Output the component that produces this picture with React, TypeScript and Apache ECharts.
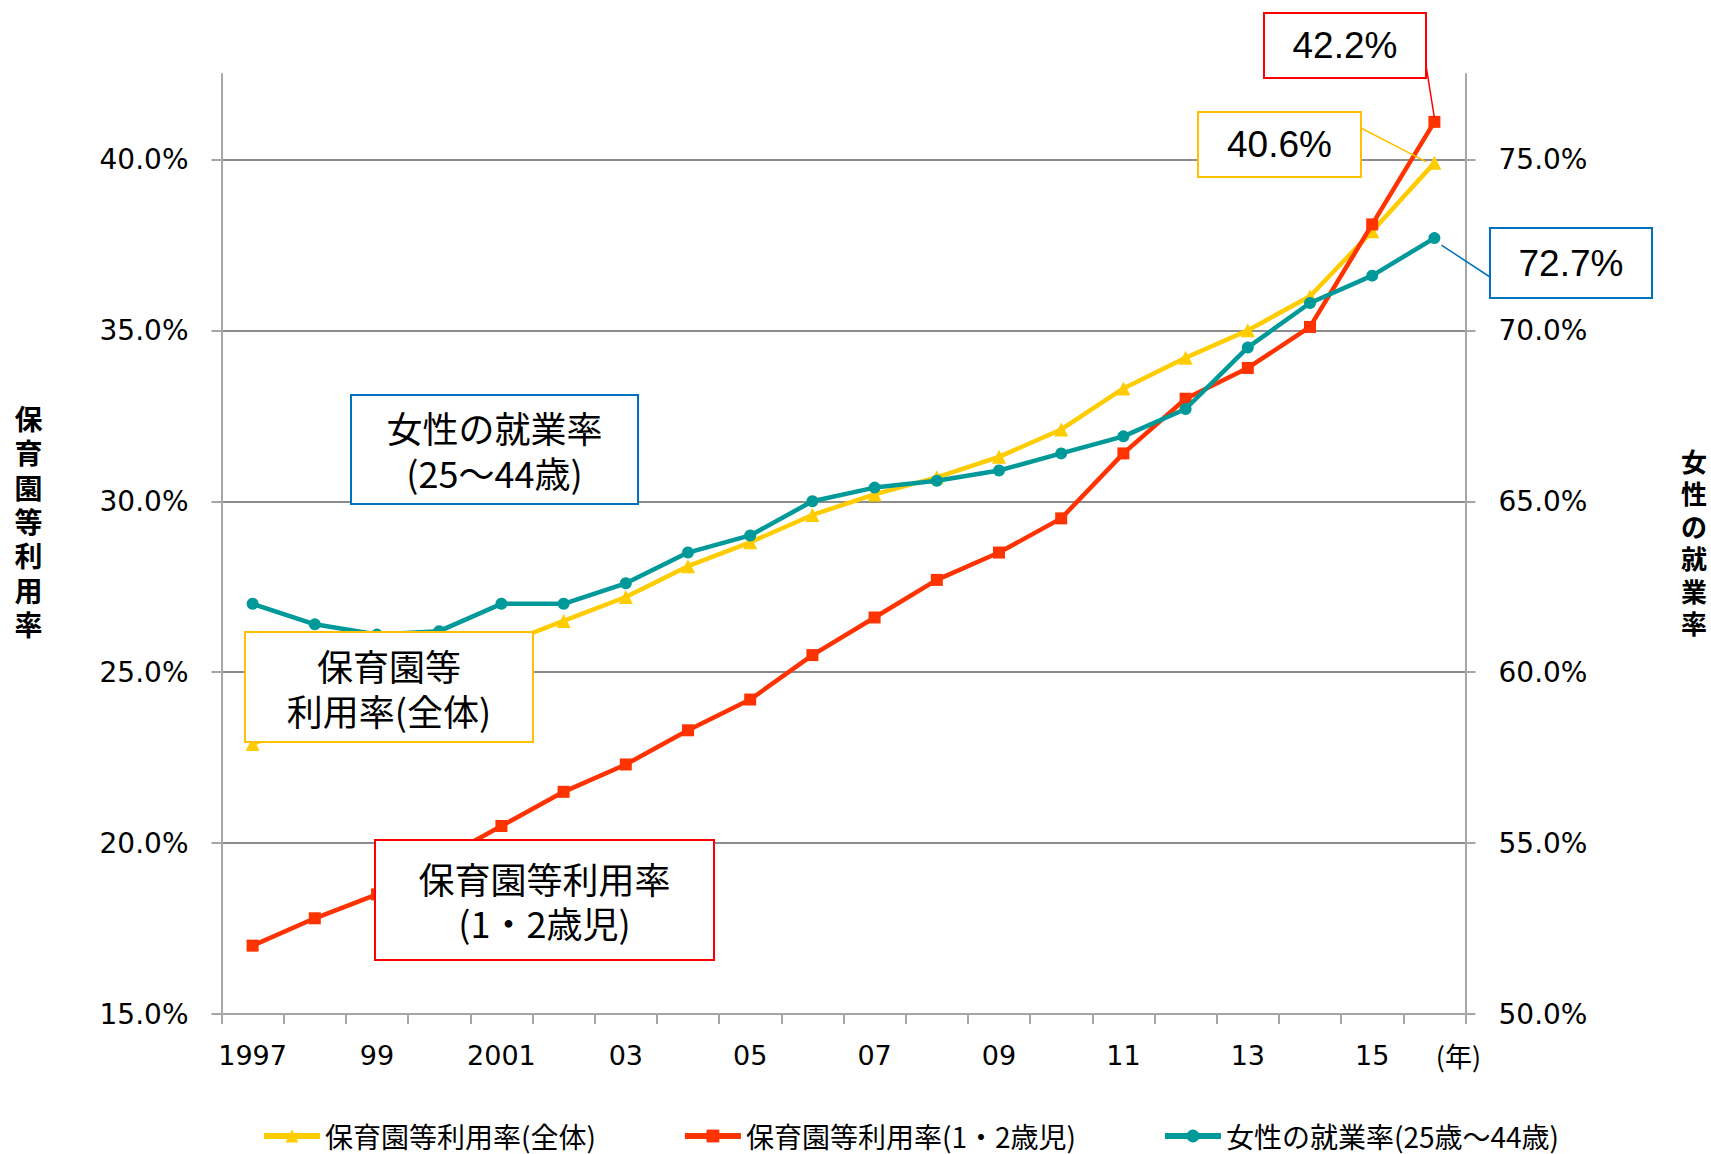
import React, { useEffect, useRef } from 'react';
import * as echarts from 'echarts';

const years = ['1997', '1998', '1999', '2000', '2001', '2002', '2003', '2004', '2005', '2006', '2007', '2008', '2009', '2010', '2011', '2012', '2013', '2014', '2015', '2016'];
const xTickLabels = ['1997', '', '99', '', '2001', '', '03', '', '05', '', '07', '', '09', '', '11', '', '13', '', '15', '(年)'];
const seriesNames = ['保育園等利用率(全体)', '保育園等利用率(1・2歳児)', '女性の就業率(25歳～44歳)'];
const usageTotal = [22.9, 23.6, 24.3, 25.0, 25.8, 26.5, 27.2, 28.1, 28.8, 29.6, 30.2, 30.7, 31.3, 32.1, 33.3, 34.2, 35.0, 36.0, 37.9, 39.9];
const usageAge12 = [17.0, 17.8, 18.5, 19.5, 20.5, 21.5, 22.3, 23.3, 24.2, 25.5, 26.6, 27.7, 28.5, 29.5, 31.4, 33.0, 33.9, 35.1, 38.1, 41.1];
const femaleEmployment = [62.0, 61.4, 61.1, 61.2, 62.0, 62.0, 62.6, 63.5, 64.0, 65.0, 65.4, 65.6, 65.9, 66.4, 66.9, 67.7, 69.5, 70.8, 71.6, 72.7];
const leftTicks = [15, 20, 25, 30, 35, 40];
const rightTicks = [50, 55, 60, 65, 70, 75];
const leftAxisName = '保育園等利用率';
const rightAxisName = '女性の就業率';
const calloutTexts = ['42.2%', '40.6%', '72.7%'];

const C_YELLOW = '#FFCC00';
const C_RED = '#FF3300';
const C_TEAL = '#009999';
const AXIS_GRAY = '#a6a6a6';
const GRID_GRAY = '#8c8c8c';
const NUM_FONT = 'DejaVu Sans, Noto Sans CJK JP';
const JP_FONT = 'Noto Sans CJK JP';

function pct(v: number) {
  return v.toFixed(1) + '%';
}

function boxGroup(x: number, y: number, w: number, h: number, stroke: string, lines: string[], fontSize: number, fontFamily: string, lineHeight: number) {
  const cx = x + w / 2;
  const cy = y + h / 2;
  const start = cy - ((lines.length - 1) * lineHeight) / 2;
  return [
    { type: 'rect', z: 100, shape: { x, y, width: w, height: h }, style: { fill: '#ffffff', stroke, lineWidth: 2 } },
    ...lines.map((t, i) => ({
      type: 'text', z: 101,
      style: { text: t, x: cx, y: start + i * lineHeight, align: 'center', verticalAlign: 'middle', fontSize, fontFamily, fill: '#000000' },
    })),
  ];
}

function verticalName(text: string, cx: number, cy: number, pitch: number, fontSize: number) {
  const chars = Array.from(text);
  const start = cy - ((chars.length - 1) * pitch) / 2;
  return chars.map((ch, i) => ({
    type: 'text', z: 50,
    style: {
      text: ch, x: cx, y: start + i * pitch, align: 'center', verticalAlign: 'middle',
      fontSize, fontWeight: 'bold', fontFamily: JP_FONT, fill: '#000',
    },
  }));
}

export default function App() {
  const ref = useRef<HTMLDivElement>(null);
  useEffect(() => {
    if (!ref.current) return;
    const chart = echarts.init(ref.current, null, { renderer: 'svg' });
    const axisCommon = {
      type: 'value',
      interval: 5,
      axisLine: { show: true, lineStyle: { color: AXIS_GRAY, width: 2 } },
      axisTick: { show: true, length: 10, lineStyle: { color: AXIS_GRAY, width: 2 } },
    };
    const option: any = {
      animation: false,
      backgroundColor: '#ffffff',
      grid: { left: 221.5, right: 245.5, top: 74, bottom: 140, containLabel: false },
      legend: {
        left: 256,
        top: 1116,
        itemWidth: 56,
        itemHeight: 16,
        itemGap: 86,
        lineStyle: { width: 6 },
        textStyle: { fontFamily: JP_FONT, fontSize: 28, color: '#000', lineHeight: 30 },
        data: seriesNames,
      },
      xAxis: {
        type: 'category',
        data: years,
        boundaryGap: true,
        axisLine: { show: true, lineStyle: { color: AXIS_GRAY, width: 2 } },
        axisTick: { show: true, interval: 0, length: 10, lineStyle: { color: AXIS_GRAY, width: 2 } },
        axisLabel: {
          interval: 0,
          margin: 28,
          fontFamily: NUM_FONT,
          fontSize: 27,
          color: '#000',
          formatter: (_v: string, i: number) => (i === years.length - 1 ? '{yr|' + xTickLabels[i] + '}' : xTickLabels[i]),
          rich: { yr: { fontFamily: JP_FONT, fontSize: 27, color: '#000', padding: [0, 0, 0, 48] } },
        },
        splitLine: { show: false },
      },
      yAxis: [
        {
          ...axisCommon,
          min: 15,
          max: 42.5,
          position: 'left',
          axisTick: { ...axisCommon.axisTick, customValues: leftTicks },
          axisLabel: {
            customValues: leftTicks,
            margin: 33,
            fontFamily: NUM_FONT,
            fontSize: 28,
            color: '#000',
            formatter: (v: number) => pct(v),
          },
          splitLine: { show: true, lineStyle: { color: GRID_GRAY, width: 2 } },
        },
        {
          ...axisCommon,
          min: 50,
          max: 77.5,
          position: 'right',
          axisTick: { ...axisCommon.axisTick, customValues: rightTicks },
          axisLabel: {
            customValues: rightTicks,
            margin: 33,
            fontFamily: NUM_FONT,
            fontSize: 28,
            color: '#000',
            formatter: (v: number) => pct(v),
          },
          splitLine: { show: false },
        },
      ],
      series: [
        {
          name: seriesNames[0], type: 'line', data: usageTotal, yAxisIndex: 0,
          symbol: 'triangle', symbolSize: 14, color: C_YELLOW,
          lineStyle: { width: 4.5, color: C_YELLOW }, itemStyle: { color: C_YELLOW }, z: 2,
        },
        {
          name: seriesNames[1], type: 'line', data: usageAge12, yAxisIndex: 0,
          symbol: 'rect', symbolSize: 12, color: C_RED,
          lineStyle: { width: 4.5, color: C_RED }, itemStyle: { color: C_RED }, z: 3,
        },
        {
          name: seriesNames[2], type: 'line', data: femaleEmployment, yAxisIndex: 1,
          symbol: 'circle', symbolSize: 12, color: C_TEAL,
          lineStyle: { width: 4.5, color: C_TEAL }, itemStyle: { color: C_TEAL }, z: 4,
        },
      ],
    };
    chart.setOption(option);

    const last = years.length - 1;
    const pRed = chart.convertToPixel({ xAxisIndex: 0, yAxisIndex: 0 }, [years[last], usageAge12[last]]) as number[];
    const pYel = chart.convertToPixel({ xAxisIndex: 0, yAxisIndex: 0 }, [years[last], usageTotal[last]]) as number[];
    const pTeal = chart.convertToPixel({ xAxisIndex: 0, yAxisIndex: 1 }, [years[last], femaleEmployment[last]]) as number[];

    const graphic: any[] = [
      ...verticalName(leftAxisName, 28.5, 521, 34.3, 28),
      ...verticalName(rightAxisName, 1694, 541.5, 32.5, 26),
      // series annotation boxes
      ...boxGroup(351, 395, 287, 109, '#0070C0', ['女性の就業率', '(25～44歳)'], 36, JP_FONT, 45),
      ...boxGroup(245, 632, 288, 110, '#FFC000', ['保育園等', '利用率(全体)'], 36, JP_FONT, 45),
      ...boxGroup(375, 840, 339, 120, '#FF0000', ['保育園等利用率', '(1・2歳児)'], 36, JP_FONT, 44),
      // leader lines
      { type: 'line', z: 99, shape: { x1: 1425.5, y1: 62, x2: pRed[0], y2: pRed[1] - 4 }, style: { stroke: '#FF0000', lineWidth: 1.5 } },
      { type: 'line', z: 99, shape: { x1: 1361, y1: 128, x2: pYel[0] - 8, y2: pYel[1] - 1 }, style: { stroke: '#FFC000', lineWidth: 1.5 } },
      { type: 'line', z: 99, shape: { x1: pTeal[0] + 7, y1: pTeal[1] + 7, x2: 1490, y2: 277 }, style: { stroke: '#0070C0', lineWidth: 1.5 } },
      // callout value boxes
      ...boxGroup(1264, 13, 162, 65, '#FF0000', [calloutTexts[0]], 37, 'Liberation Sans, Arial', 40),
      ...boxGroup(1198, 112, 163, 65, '#FFC000', [calloutTexts[1]], 37, 'Liberation Sans, Arial', 40),
      ...boxGroup(1490, 228, 162, 70, '#0070C0', [calloutTexts[2]], 37, 'Liberation Sans, Arial', 40),
    ];
    chart.setOption({ graphic });

    return () => chart.dispose();
  }, []);
  return <div ref={ref} style={{ position: 'absolute', left: 0, top: 0, width: 1711, height: 1154, background: '#fff' }} />;
}
